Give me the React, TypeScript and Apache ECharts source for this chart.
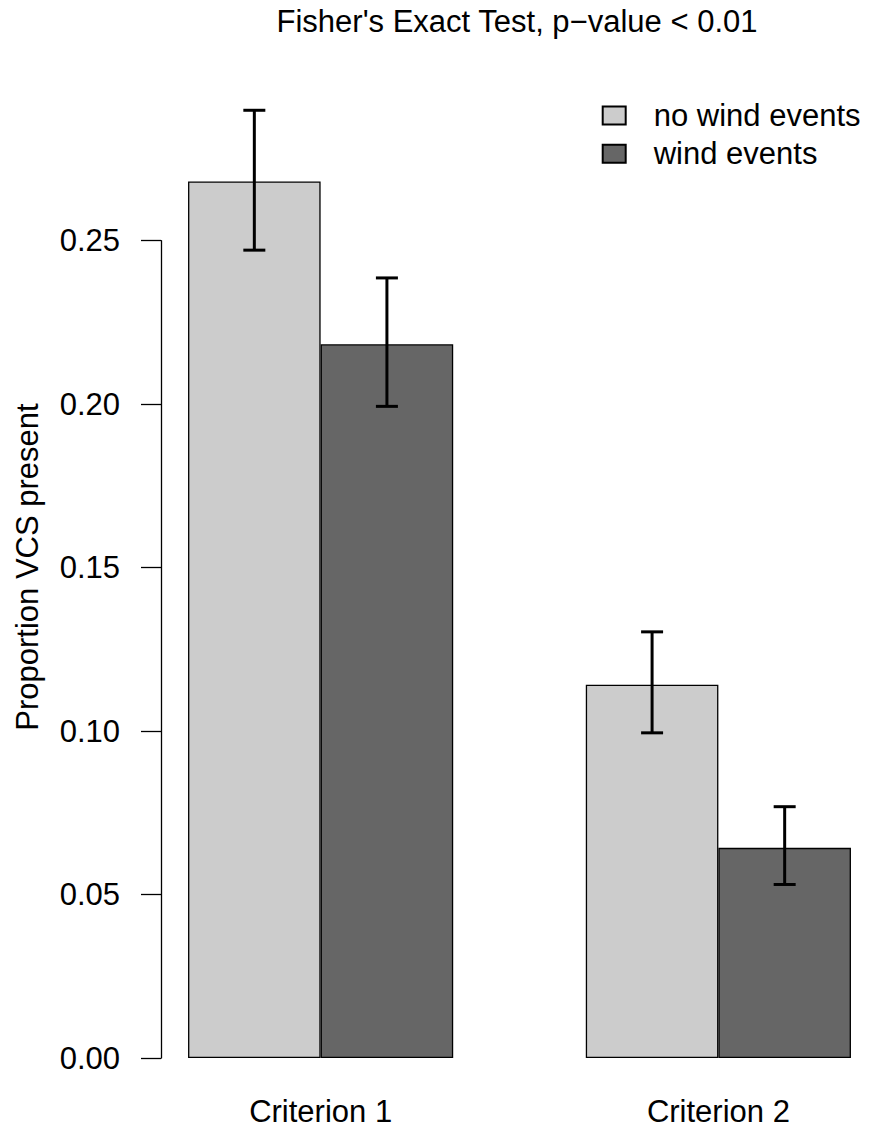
import React, { useEffect, useRef } from "react";
import * as echarts from "echarts";

// Categories and series
const categories = ["Criterion 1", "Criterion 2"];
const seriesNames = ["no wind events", "wind events"];
const noWindValues = [0.2682, 0.1142];
const windValues = [0.2184, 0.0643];
// Confidence intervals (lower, upper)
const noWindLow = [0.2472, 0.0995];
const noWindHigh = [0.29, 0.1304];
const windLow = [0.1994, 0.0531];
const windHigh = [0.2387, 0.0769];
// Y tick values
const yTicks = [0, 0.05, 0.1, 0.15, 0.2, 0.25];

const titleText = "Fisher's Exact Test, p\u2212value < 0.01";
const yAxisTitle = "Proportion VCS present";

const FONT = "'Liberation Sans', Arial, Helvetica, sans-serif";
const FS = 31;

export default function App() {
  const ref = useRef<HTMLDivElement>(null);

  useEffect(() => {
    if (!ref.current) return;
    const chart = echarts.init(ref.current, undefined, { renderer: "svg" });

    const errData = (lows: number[], highs: number[]) =>
      categories.map((_, i) => [i, lows[i], highs[i]]);

    // Error bar with caps, offset to the centre of the matching bar in its group
    const makeErrRender = (side: number) => (params: any, api: any) => {
      const idx = api.value(0);
      const lo = api.coord([idx, api.value(1)]);
      const hi = api.coord([idx, api.value(2)]);
      const band = api.size([1, 0])[0];
      const x = lo[0] + (side * band) / 6;
      const cap = 11;
      const style = { stroke: "#000", lineWidth: 3, fill: "none" };
      return {
        type: "group",
        children: [
          { type: "line", shape: { x1: x, y1: lo[1], x2: x, y2: hi[1] }, style },
          { type: "line", shape: { x1: x - cap, y1: lo[1], x2: x + cap, y2: lo[1] }, style },
          { type: "line", shape: { x1: x - cap, y1: hi[1], x2: x + cap, y2: hi[1] }, style },
        ],
      };
    };

    const option: any = {
      animation: false,
      backgroundColor: "#ffffff",
      textStyle: { fontFamily: FONT, color: "#000" },
      grid: [
        {
          left: 121.75,
          width: 795.5,
          top: 77.6,
          height: 980.4,
          containLabel: false,
          outerBoundsMode: "none",
        },
        {
          left: 161,
          width: 10,
          top: 240.7,
          height: 817.3,
          containLabel: false,
          outerBoundsMode: "none",
        },
      ],
      xAxis: [
        {
          type: "category",
          gridIndex: 0,
          data: categories,
          axisLine: { show: false },
          axisTick: { show: false },
          axisLabel: {
            fontSize: FS,
            fontFamily: FONT,
            color: "#000",
            margin: 40,
            lineHeight: 26,
          },
        },
        { type: "value", gridIndex: 1, show: false },
      ],
      yAxis: [
        {
          type: "value",
          gridIndex: 0,
          min: 0,
          max: 0.3,
          show: false,
        },
        {
          type: "value",
          gridIndex: 1,
          min: 0,
          max: 0.25,
          interval: 0.05,
          splitLine: { show: false },
          axisLine: { show: true, lineStyle: { color: "#000", width: 1.3 } },
          axisTick: { show: true, length: 20, lineStyle: { color: "#000", width: 1.3 } },
          axisLabel: {
            fontSize: FS,
            fontFamily: FONT,
            color: "#000",
            margin: 41,
            formatter: (v: number) => {
              const t = yTicks.find((y) => Math.abs(y - v) < 1e-9);
              return t === undefined ? "" : t.toFixed(2);
            },
          },
        },
      ],
      legend: {
        orient: "vertical",
        left: 601.7,
        top: 100,
        padding: 0,
        itemWidth: 23,
        itemHeight: 18,
        itemGap: 7.3,
        selectedMode: false,
        icon: "rect",
        data: seriesNames,
        textStyle: {
          fontSize: FS,
          fontFamily: FONT,
          color: "#000",
          padding: [0, 0, 0, 23],
          lineHeight: FS,
        },
      },
      graphic: [
        {
          type: "text",
          x: 517,
          y: 21,
          style: {
            text: titleText,
            fontSize: FS,
            fontFamily: FONT,
            fill: "#000",
            textAlign: "center",
            textVerticalAlign: "middle",
          },
        },
        {
          type: "text",
          x: 27,
          y: 567,
          rotation: Math.PI / 2,
          style: {
            text: yAxisTitle,
            fontSize: FS,
            fontFamily: FONT,
            fill: "#000",
            textAlign: "center",
            textVerticalAlign: "middle",
          },
        },
      ],
      series: [
        {
          name: seriesNames[0],
          type: "bar",
          xAxisIndex: 0,
          yAxisIndex: 0,
          data: noWindValues,
          barGap: "0%",
          barCategoryGap: "33.333%",
          itemStyle: { color: "#cccccc", borderColor: "#000", borderWidth: 1.3 },
        },
        {
          name: seriesNames[1],
          type: "bar",
          xAxisIndex: 0,
          yAxisIndex: 0,
          data: windValues,
          barGap: "0%",
          barCategoryGap: "33.333%",
          itemStyle: { color: "#666666", borderColor: "#000", borderWidth: 1.3 },
        },
        {
          type: "custom",
          xAxisIndex: 0,
          yAxisIndex: 0,
          renderItem: makeErrRender(-1),
          data: errData(noWindLow, noWindHigh),
          encode: { x: 0, y: [1, 2] },
          z: 10,
        },
        {
          type: "custom",
          xAxisIndex: 0,
          yAxisIndex: 0,
          renderItem: makeErrRender(1),
          data: errData(windLow, windHigh),
          encode: { x: 0, y: [1, 2] },
          z: 10,
        },
      ],
    };

    chart.setOption(option);
    return () => chart.dispose();
  }, []);

  return (
    <div
      ref={ref}
      style={{ position: "fixed", left: 0, top: 0, width: 869, height: 1130, background: "#fff" }}
    />
  );
}
